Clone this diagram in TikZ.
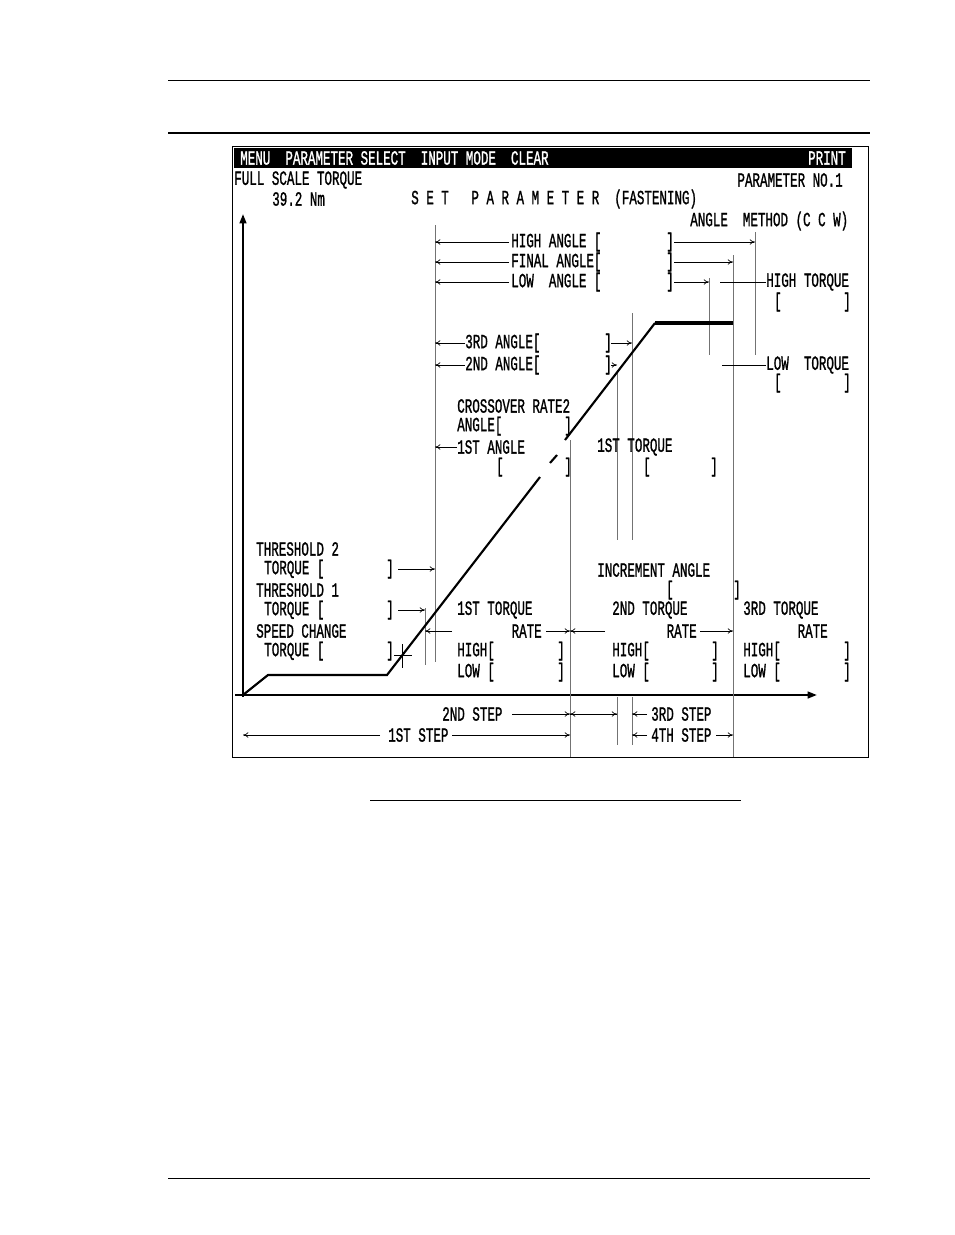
\documentclass[tikz,border=0pt]{standalone}
\usepackage{fontspec}
\usepackage{graphicx}
\newfontfamily\scr{Liberation Mono}[FakeBold=1.5]
\usetikzlibrary{arrows.meta}
\newcommand{\Tx}[1]{\scalebox{1}[1.6]{#1}}
\tikzset{
 tx/.style={inner sep=0pt,font=\scr\fontsize{9.4}{10}\selectfont},
 tl/.style={tx,anchor=west},
 tr/.style={tx,anchor=east},
 thin1/.style={line width=0.5pt},
 ar/.style={thin1,-{To[length=4pt,width=4pt]}},
 gr/.style={line width=0.6pt,black!55}
}
\begin{document}
\begin{tikzpicture}[x=0.75pt,y=-0.75pt]
\useasboundingbox (0,0) rectangle (954,1235);
% page rules
\draw[line width=0.6pt] (168,80) -- (870,80);
\draw[line width=1.2pt] (168,133) -- (870,133);
\draw[line width=0.6pt] (370,800) -- (741,800);
\draw[line width=0.6pt] (168,1178) -- (870,1178);
% screen
\draw[line width=0.7pt] (232,146) rectangle (868,757);
\fill (234,148) rectangle (852,168);
\node[tl,white] (menu) at (240,158) {\Tx{MENU\ \ PARAMETER SELECT\ \ INPUT MODE\ \ CLEAR}};
\node[tr,white] (print) at (846,158) {\Tx{PRINT}};
\node[tl] (fst) at (234,180) {\Tx{FULL SCALE TORQUE}};
\node[tr] (pno) at (843,180) {\Tx{PARAMETER NO.1}};
\node[tl] (nm) at (272,199) {\Tx{39.2 Nm}};
\node[tl] (setp) at (411,199) {\Tx{S E T\ \ \ P A R A M E T E R\ \ (FASTENING)}};
\node[tl] (meth) at (690,221) {\Tx{ANGLE\ \ METHOD (C C W)}};
% axes
\draw[line width=1.6pt,-{Triangle[length=7pt,width=5pt]}] (243,697) -- (243,214);
\draw[line width=1.6pt,-{Triangle[length=7pt,width=5pt]}] (235,695) -- (817,695);
% verticals
\draw[gr] (435,225) -- (435,662);
\draw[gr] (570,440) -- (570,757);
\draw[gr] (617,370) -- (617,540); \draw[gr] (617,697) -- (617,745);
\draw[gr] (632,313) -- (632,540); \draw[gr] (632,697) -- (632,745);
\draw[gr] (709,278) -- (709,355);
\draw[gr] (733,255) -- (733,757);
\draw[gr] (755,232) -- (755,355);
\draw[gr] (425,608) -- (425,665);
\draw[thin1] (402,644) -- (402,668);
\draw[thin1] (394,655) -- (412,655);
% curve
\draw[line width=1.6pt] (243,695) -- (268,675) -- (387,675) -- (540,477);
\draw[line width=1.6pt] (550,463) -- (557,455);
\draw[line width=1.6pt] (565,440) -- (655,323);
\draw[line width=3pt] (655,323) -- (733,323);
% angle rows
\foreach \y/\t/\e in {242/{HIGH ANGLE [}/755,262/{FINAL ANGLE[}/733,282/{LOW\ \ ANGLE [}/709}{
 \node[tl] at (511,\y) {\Tx{\t}};
 \node[tl] at (666,\y) {\Tx{]}};
 \draw[ar] (509,\y) -- (435,\y);
 \draw[ar] (674,\y) -- (\e,\y);
}
\node[tl] (ht) at (766,282) {\Tx{HIGH TORQUE}};
\node[tl] at (774,302) {\Tx{[}}; \node[tr] at (851,302) {\Tx{]}};
\draw[thin1] (720,282) -- (ht.west);
\node[tl] (lt) at (766,365) {\Tx{LOW\ \ TORQUE}};
\node[tl] at (774,383) {\Tx{[}}; \node[tr] at (851,383) {\Tx{]}};
\draw[thin1] (722,365) -- (lt.west);
% 3rd / 2nd angle
\node[tl] (a3) at (465,343) {\Tx{3RD ANGLE[}}; \node[tl] at (604,343) {\Tx{]}};
\draw[ar] (a3.west) -- (435,343); \draw[ar] (611,343) -- (632,343);
\node[tl] (a2) at (465,365) {\Tx{2ND ANGLE[}}; \node[tl] at (604,365) {\Tx{]}};
\draw[ar] (a2.west) -- (435,365); \draw[ar] (611,365) -- (617,365);
% crossover
\node[tl] at (457,406) {\Tx{CROSSOVER RATE2}};
\node[tl] at (457,426) {\Tx{ANGLE[}}; \node[tr] at (572,426) {\Tx{]}};
\node[tl] (a1) at (457,447) {\Tx{1ST ANGLE}};
\draw[ar] (a1.west) -- (435,447);
\node[tl] at (496,467) {\Tx{[}}; \node[tr] at (572,467) {\Tx{]}};
\node[tl] at (597,447) {\Tx{1ST TORQUE}};
\node[tl] at (643,467) {\Tx{[}}; \node[tr] at (718,467) {\Tx{]}};
% thresholds
\node[tl] at (256,549) {\Tx{THRESHOLD 2}};
\node[tl] at (264,569) {\Tx{TORQUE [}}; \node[tr] at (394,569) {\Tx{]}};
\draw[ar] (398,569) -- (435,569);
\node[tl] at (256,590) {\Tx{THRESHOLD 1}};
\node[tl] at (264,610) {\Tx{TORQUE [}}; \node[tr] at (394,610) {\Tx{]}};
\draw[ar] (398,610) -- (425,610);
\node[tl] at (256,631) {\Tx{SPEED CHANGE}};
\node[tl] at (264,651) {\Tx{TORQUE [}}; \node[tr] at (394,651) {\Tx{]}};
% increment
\node[tl] at (597,570) {\Tx{INCREMENT ANGLE}};
\node[tl] at (666,590) {\Tx{[}}; \node[tr] at (741,590) {\Tx{]}};
% torque rates
\foreach \x/\r/\b/\n in {457/542/565/1ST,612/697/719/2ND,743/828/851/3RD}{
 \node[tl] at (\x,610) {\Tx{\n\ TORQUE}};
 \node[tr] at (\r,631) {\Tx{RATE}};
 \node[tl] at (\x,651) {\Tx{HIGH[}}; \node[tr] at (\b,651) {\Tx{]}};
 \node[tl] at (\x,672) {\Tx{LOW [}}; \node[tr] at (\b,672) {\Tx{]}};
}
\draw[ar] (452,631) -- (425,631);
\draw[ar] (546,631) -- (570,631);
\draw[ar] (605,631) -- (570,631);
\draw[ar] (700,631) -- (733,631);
% steps
\node[tl] (s2) at (442,714) {\Tx{2ND STEP}};
\draw[ar] (512,714) -- (570,714);
\draw[ar] (570,714) -- (617,714); \draw[ar] (617,714) -- (570,714);
\node[tl] (s3) at (651,714) {\Tx{3RD STEP}};
\draw[ar] (647,714) -- (632,714);
\node[tl] (s1) at (388,735) {\Tx{1ST STEP}};
\draw[ar] (380,735) -- (243,735);
\draw[ar] (452,735) -- (570,735);
\node[tl] (s4) at (651,735) {\Tx{4TH STEP}};
\draw[ar] (647,735) -- (632,735);
\draw[ar] (716,735) -- (733,735);
\end{tikzpicture}
\end{document}
